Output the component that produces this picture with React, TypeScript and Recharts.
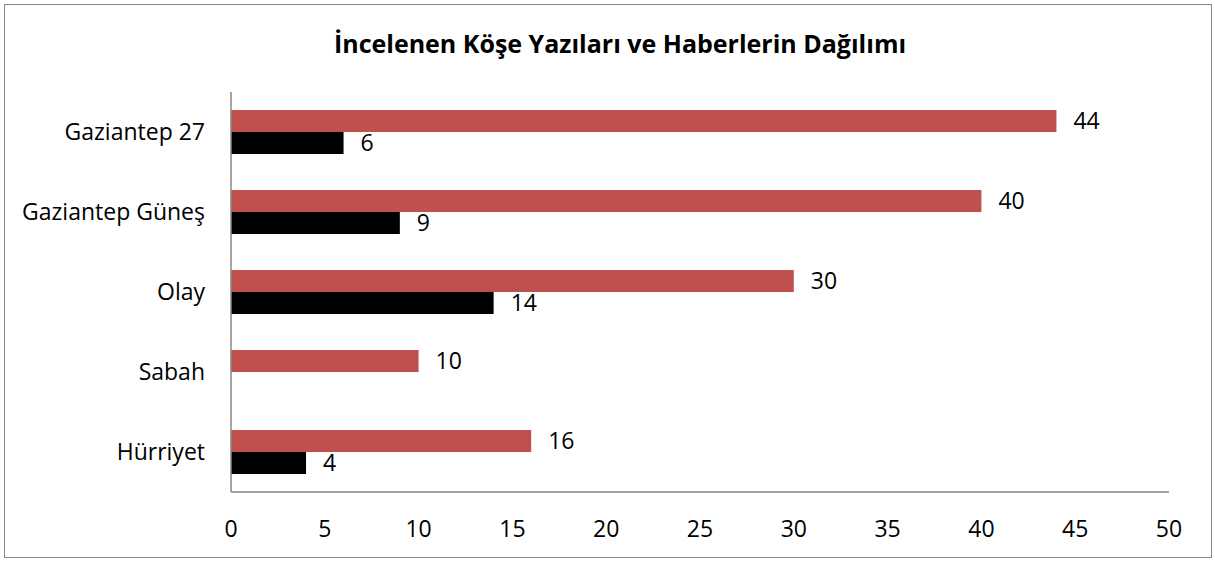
import * as React from "react";
import { Bar, BarChart, LabelList, XAxis, YAxis } from "recharts";

const categories = ["Gaziantep 27", "Gaziantep Güneş", "Olay", "Sabah", "Hürriyet"];
const redValues = [44, 40, 30, 10, 16];
const blackValues = [6, 9, 14, 0, 4];
const xTicks = [0, 5, 10, 15, 20, 25, 30, 35, 40, 45, 50];

const data = categories.map((name, i) => ({
  name,
  red: redValues[i],
  black: blackValues[i],
}));

const FONT = "'Open Sans', Lato, sans-serif";
const AXIS = "#868686";
const FS = 23;

function hideZero(v: unknown) {
  return v === 0 || v == null ? "" : String(v);
}

export default function App() {
  return (
    <div
      style={{
        position: "absolute",
        left: 0,
        top: 0,
        width: 1215,
        height: 563,
        background: "#fff",
        fontFamily: FONT,
      }}
    >
      <div
        style={{
          position: "absolute",
          left: 4,
          top: 4,
          width: 1206,
          height: 552,
          border: `1px solid ${AXIS}`,
        }}
      />
      <div
        style={{
          position: "absolute",
          left: 0,
          width: 1240,
          top: 26,
          textAlign: "center",
          fontWeight: 700,
          fontSize: 25,
          lineHeight: "34px",
          color: "#000",
        }}
      >
        İncelenen Köşe Yazıları ve Haberlerin Dağılımı
      </div>
      <div style={{ position: "absolute", left: 0, top: 0 }}>
        <BarChart
          width={1215}
          height={563}
          data={data}
          layout="vertical"
          margin={{ top: 92, right: 46, left: 0, bottom: 21 }}
          barSize={22}
          barGap={0}
        >
          <XAxis
            type="number"
            domain={[0, 50]}
            ticks={xTicks}
            interval={0}
            height={50}
            axisLine={{ stroke: AXIS, strokeWidth: 1.5 }}
            tickLine={false}
            tickMargin={23}
            tick={{ fill: "#000", fontSize: FS, fontFamily: FONT }}
          />
          <YAxis
            type="category"
            dataKey="name"
            width={231}
            axisLine={{ stroke: AXIS, strokeWidth: 1.5 }}
            tickLine={false}
            tickMargin={20}
            tick={{ fill: "#000", fontSize: FS, fontFamily: FONT }}
          />
          <Bar dataKey="red" fill="#C0504D" isAnimationActive={false}>
            <LabelList
              dataKey="red"
              position="right"
              offset={17}
              fill="#000"
              fontSize={FS}
              fontFamily={FONT}
            />
          </Bar>
          <Bar dataKey="black" fill="#000000" isAnimationActive={false}>
            <LabelList
              dataKey="black"
              position="right"
              offset={17}
              fill="#000"
              fontSize={FS}
              fontFamily={FONT}
              formatter={hideZero}
            />
          </Bar>
        </BarChart>
      </div>
    </div>
  );
}
